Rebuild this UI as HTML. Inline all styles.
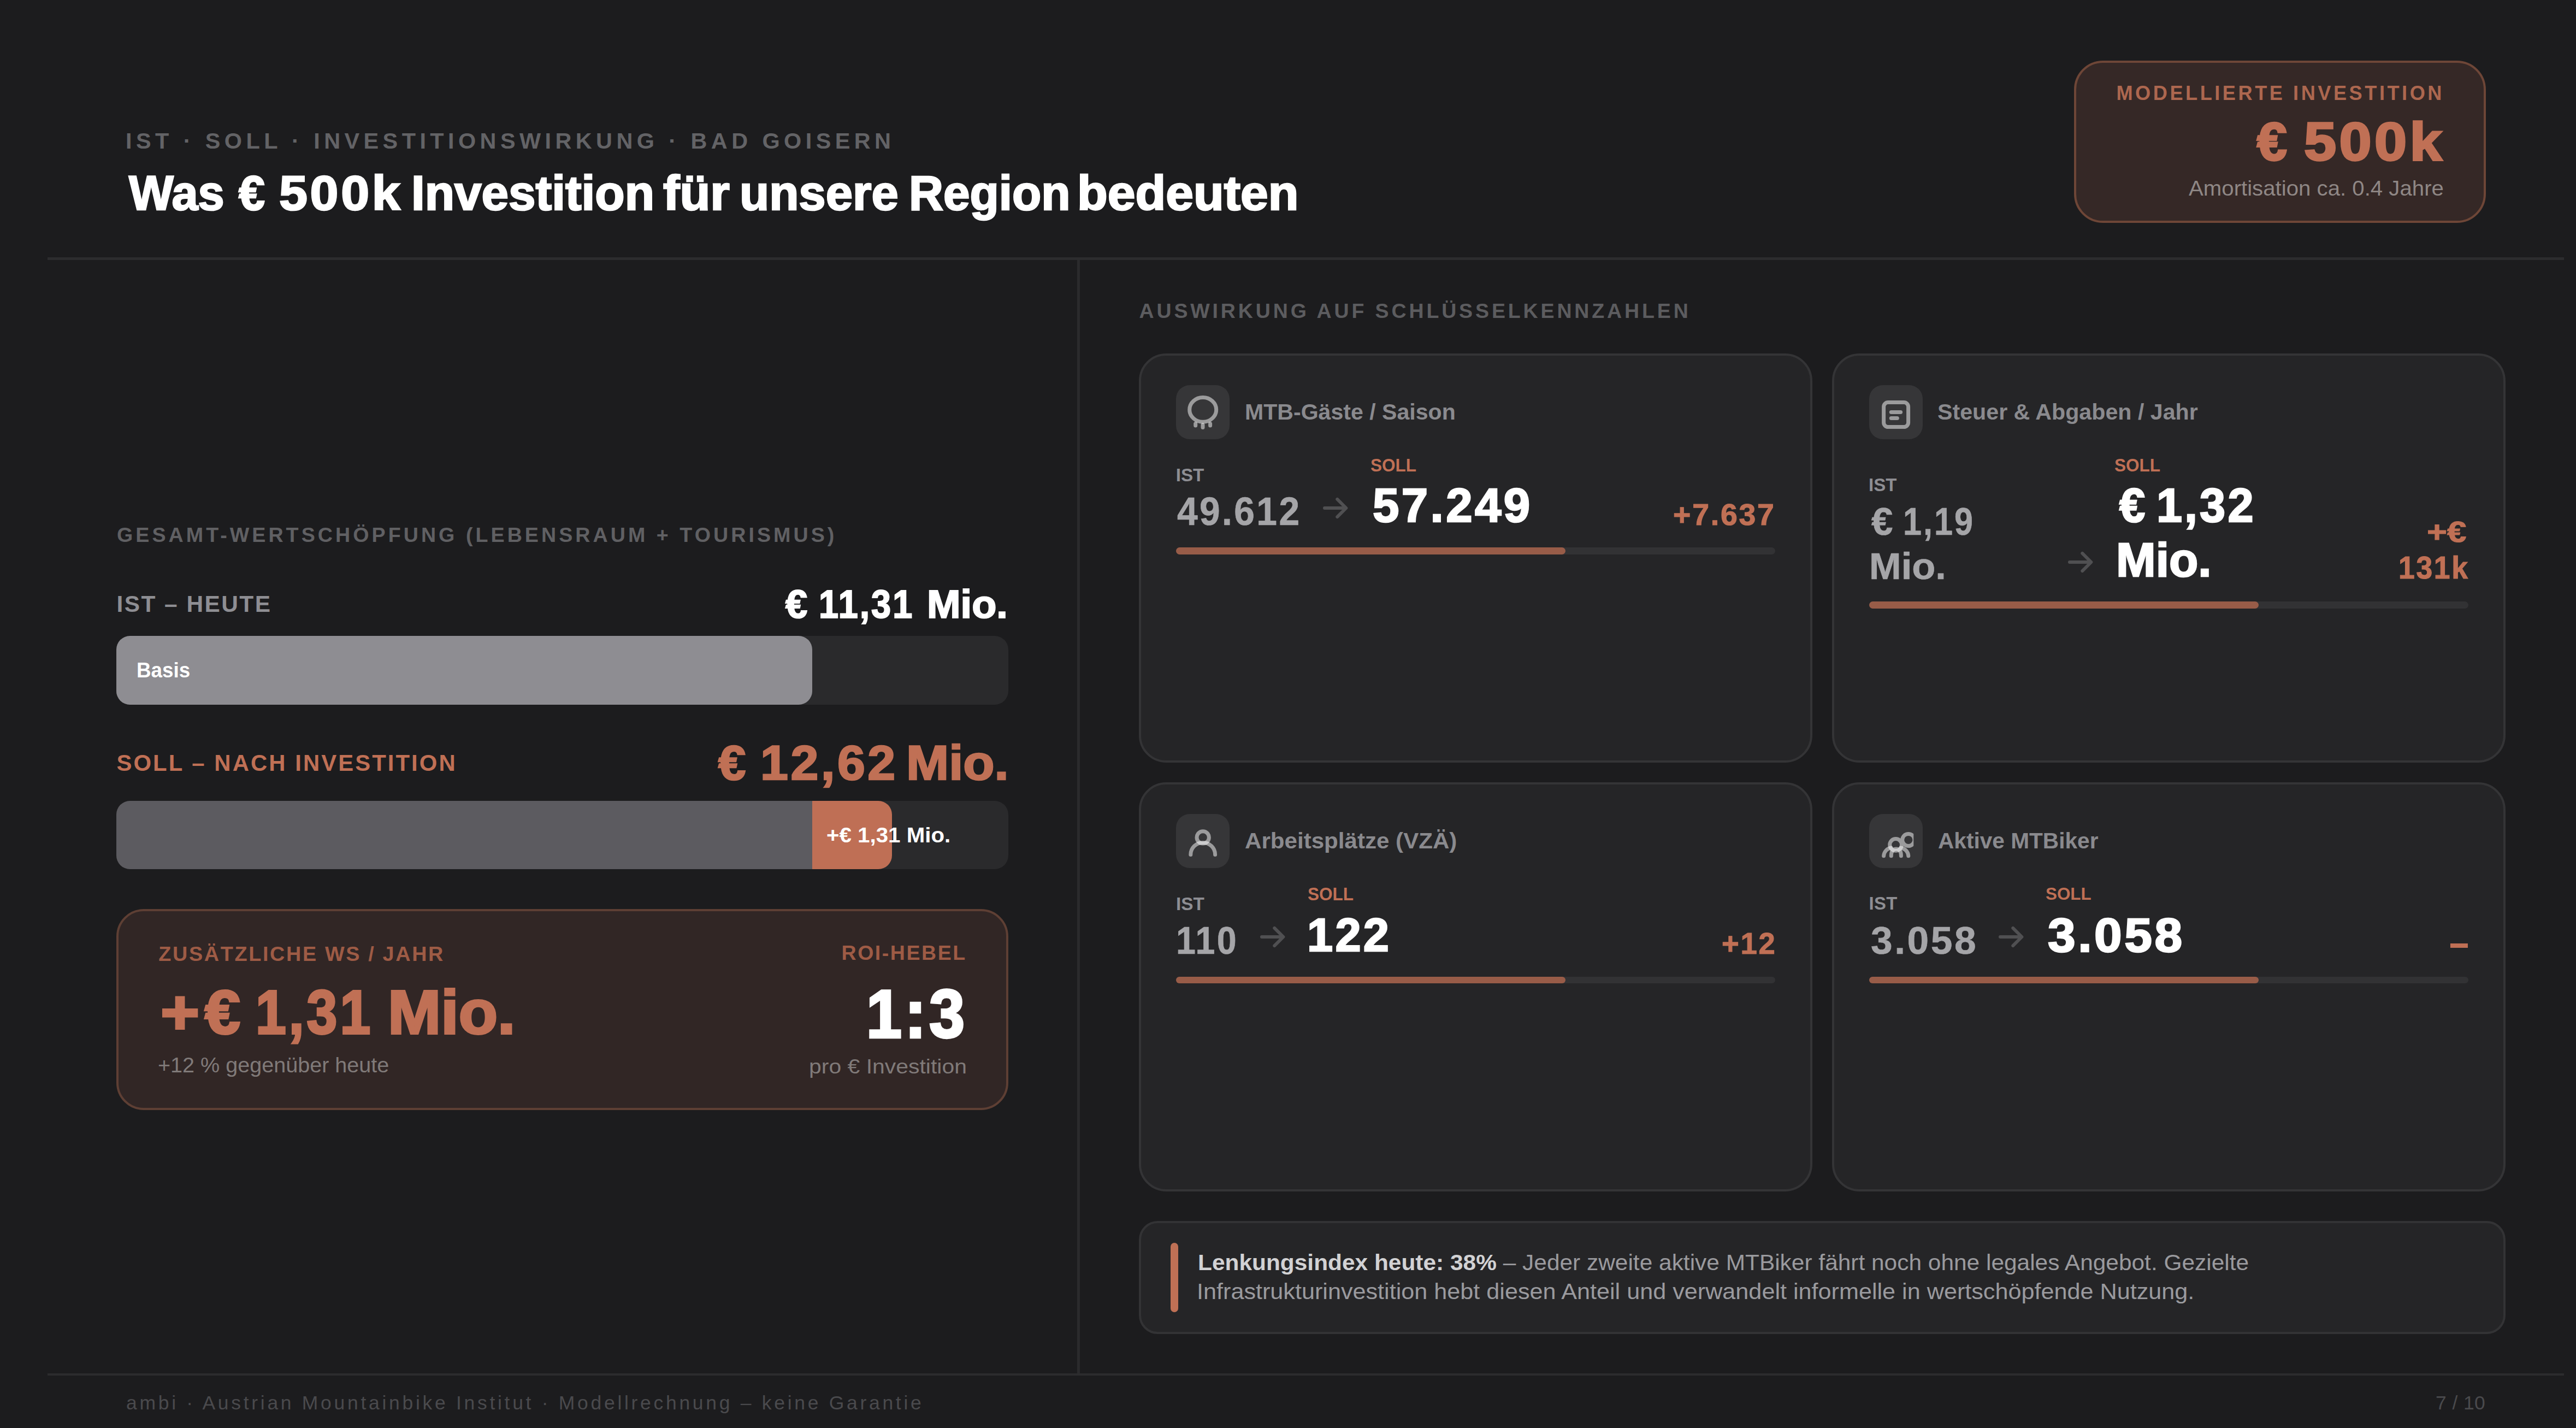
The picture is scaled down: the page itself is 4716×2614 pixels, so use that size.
<!DOCTYPE html>
<html lang="de"><head><meta charset="utf-8"><title>Investitionswirkung</title>
<style>
html,body{margin:0;padding:0;background:#1c1c1e;}
body{width:4716px;height:2614px;position:relative;overflow:hidden;font-family:"Liberation Sans", Arial, sans-serif;}
.t{position:absolute;white-space:nowrap;}
.t b{font-weight:700;color:#d2d2d4;}
.b{position:absolute;display:block;}
</style></head><body>
<div class="b" style="left:87.00px;top:471.00px;width:4607.00px;height:4.70px;background:#2c2c2e;border-radius:0;"></div>
<div class="b" style="left:1972.10px;top:475.50px;width:4.90px;height:2038.50px;background:#2a2a2c;border-radius:0;"></div>
<div class="b" style="left:87.00px;top:2514.00px;width:4607.00px;height:4.20px;background:#2c2c2e;border-radius:0;"></div>
<div class="b" style="left:3797.20px;top:111.00px;width:754.00px;height:297.00px;background:#352826;border-radius:53px;border:4.9px solid #6e4637;box-sizing:border-box;"></div>
<div class="b" style="left:213.00px;top:1164.00px;width:1633.00px;height:125.50px;background:#2a2a2c;border-radius:25px;"></div>
<div class="b" style="left:213.00px;top:1164.00px;width:1273.50px;height:125.50px;background:#8e8d92;border-radius:25px;"></div>
<div class="b" style="left:213.00px;top:1465.50px;width:1633.00px;height:125.30px;background:#2a2a2c;border-radius:25px;"></div>
<div class="b" style="left:1486.50px;top:1465.50px;width:146.50px;height:125.30px;background:#bf6f55;border-radius:0 25px 25px 0;"></div>
<div class="b" style="left:213.00px;top:1465.50px;width:1273.50px;height:125.30px;background:#5c5b60;border-radius:25px 0 0 25px;"></div>
<div class="b" style="left:213.00px;top:1663.60px;width:1633.10px;height:368.50px;background:#312625;border-radius:50px;border:4.9px solid #5e3f34;box-sizing:border-box;"></div>
<div class="b" style="left:2085.00px;top:646.80px;width:1233.20px;height:749.40px;background:#252527;border-radius:50px;border:4.9px solid #343436;box-sizing:border-box;"></div>
<div class="b" style="left:3353.80px;top:646.80px;width:1233.20px;height:749.40px;background:#252527;border-radius:50px;border:4.9px solid #343436;box-sizing:border-box;"></div>
<div class="b" style="left:2085.00px;top:1431.70px;width:1233.20px;height:749.50px;background:#252527;border-radius:50px;border:4.9px solid #343436;box-sizing:border-box;"></div>
<div class="b" style="left:3353.80px;top:1431.70px;width:1233.20px;height:749.50px;background:#252527;border-radius:50px;border:4.9px solid #343436;box-sizing:border-box;"></div>
<div class="b" style="left:2152.80px;top:704.90px;width:98.50px;height:98.80px;background:#363638;border-radius:25px;"></div>
<div class="b" style="left:3421.80px;top:704.90px;width:98.50px;height:98.80px;background:#363638;border-radius:25px;"></div>
<div class="b" style="left:2152.80px;top:1489.90px;width:98.50px;height:98.80px;background:#363638;border-radius:25px;"></div>
<div class="b" style="left:3421.80px;top:1489.90px;width:98.50px;height:98.80px;background:#363638;border-radius:25px;"></div>
<svg class="b" style="left:2152.80px;top:704.90px" width="98.5" height="98.8" viewBox="0 0 98.5 98.8"><ellipse cx="49.2" cy="44.9" rx="24.5" ry="22.4" stroke="#fff" stroke-opacity="0.5" fill="none" stroke-width="7" stroke-linecap="round"/><line x1="35.7" y1="70.5" x2="35.7" y2="74" stroke="#fff" stroke-opacity="0.5" fill="none" stroke-width="7" stroke-linecap="round"/><line x1="49" y1="72.6" x2="49" y2="77.6" stroke="#fff" stroke-opacity="0.5" fill="none" stroke-width="7" stroke-linecap="round"/><line x1="62.6" y1="70.5" x2="62.6" y2="74" stroke="#fff" stroke-opacity="0.5" fill="none" stroke-width="7" stroke-linecap="round"/></svg>
<svg class="b" style="left:3421.80px;top:704.90px" width="98.5" height="98.8" viewBox="0 0 98.5 98.8"><rect x="26.6" y="31.6" width="45" height="45" rx="8" stroke="#fff" stroke-opacity="0.5" fill="none" stroke-width="7" stroke-linecap="round"/><line x1="40.3" y1="49.4" x2="57.6" y2="49.4" stroke="#fff" stroke-opacity="0.5" fill="none" stroke-width="7" stroke-linecap="round"/><line x1="40.3" y1="60.6" x2="51.3" y2="60.6" stroke="#fff" stroke-opacity="0.5" fill="none" stroke-width="7" stroke-linecap="round"/></svg>
<svg class="b" style="left:2152.80px;top:1489.90px" width="98.5" height="98.8" viewBox="0 0 98.5 98.8"><circle cx="49.2" cy="42.9" r="11.2" stroke="#fff" stroke-opacity="0.5" fill="none" stroke-width="7" stroke-linecap="round"/><path d="M26.8 74.4 A22.4 22 0 0 1 71.6 74.4" stroke="#fff" stroke-opacity="0.5" fill="none" stroke-width="7" stroke-linecap="round"/></svg>
<svg class="b" style="left:3421.80px;top:1489.90px" width="98.5" height="98.8" viewBox="0 0 98.5 98.8"><defs><clipPath id="gc"><rect x="0" y="0" width="81.3" height="98"/></clipPath></defs><path clip-path="url(#gc)" d="M82.9 47.5 A11.1 11.1 0 1 0 60.7 47.5 A11.1 11.1 0 1 0 82.9 47.5 Z M59.5 56.4 A10.9 10.9 0 1 0 37.7 56.4 A10.9 10.9 0 1 0 59.5 56.4 Z" stroke="#fff" stroke-opacity="0.5" fill="none" stroke-width="7" stroke-linecap="round"/><path d="M26.6 76.7 A15.9 15.9 0 0 1 40 62 M71.8 76.7 A15.9 15.9 0 0 0 58 62 M40.3 76.7 Q40.3 64 49.5 64 Q58.4 64 58.4 76.7" stroke="#fff" stroke-opacity="0.5" fill="none" stroke-width="7" stroke-linecap="round"/></svg>
<svg class="b" style="left:2421.55px;top:908.00px" width="50.00" height="44.00" viewBox="0 0 50.00 44.00"><path d="M2.95 22.00 H42.00 M26.25 5.90 L42.40 22.00 L26.25 38.10" stroke="#505052" stroke-width="5.90" fill="none" stroke-linecap="round" stroke-linejoin="round"/></svg>
<svg class="b" style="left:3785.50px;top:1007.00px" width="50.00" height="44.00" viewBox="0 0 50.00 44.00"><path d="M2.95 22.00 H42.00 M26.25 5.90 L42.40 22.00 L26.25 38.10" stroke="#505052" stroke-width="5.90" fill="none" stroke-linecap="round" stroke-linejoin="round"/></svg>
<svg class="b" style="left:2306.60px;top:1693.20px" width="50.00" height="44.00" viewBox="0 0 50.00 44.00"><path d="M2.95 22.00 H42.00 M26.25 5.90 L42.40 22.00 L26.25 38.10" stroke="#505052" stroke-width="5.90" fill="none" stroke-linecap="round" stroke-linejoin="round"/></svg>
<svg class="b" style="left:3658.80px;top:1693.30px" width="50.00" height="44.00" viewBox="0 0 50.00 44.00"><path d="M2.95 22.00 H42.00 M26.25 5.90 L42.40 22.00 L26.25 38.10" stroke="#505052" stroke-width="5.90" fill="none" stroke-linecap="round" stroke-linejoin="round"/></svg>
<div class="b" style="left:2153.00px;top:1002.20px;width:1097.00px;height:12.60px;background:#323234;border-radius:7px;"></div>
<div class="b" style="left:2153.00px;top:1002.20px;width:713.00px;height:12.60px;background:#985c48;border-radius:7px;"></div>
<div class="b" style="left:3422.00px;top:1101.00px;width:1097.00px;height:12.80px;background:#323234;border-radius:7px;"></div>
<div class="b" style="left:3422.00px;top:1101.00px;width:713.00px;height:12.80px;background:#985c48;border-radius:7px;"></div>
<div class="b" style="left:2153.00px;top:1787.50px;width:1097.00px;height:12.80px;background:#323234;border-radius:7px;"></div>
<div class="b" style="left:2153.00px;top:1787.50px;width:713.00px;height:12.80px;background:#985c48;border-radius:7px;"></div>
<div class="b" style="left:3422.00px;top:1787.50px;width:1097.00px;height:12.80px;background:#323234;border-radius:7px;"></div>
<div class="b" style="left:3422.00px;top:1787.50px;width:713.00px;height:12.80px;background:#985c48;border-radius:7px;"></div>
<div class="b" style="left:2085.10px;top:2235.00px;width:2501.90px;height:206.80px;background:#252527;border-radius:34.4px;border:4.9px solid #333335;box-sizing:border-box;"></div>
<div class="b" style="left:2143.40px;top:2275.10px;width:13.70px;height:126.70px;background:#bf7055;border-radius:7px;"></div>
<div id="hdr" class="t" style="left:230.00px;top:237.43px;font-size:41.43px;line-height:41.43px;font-weight:700;color:#636366;letter-spacing:7.422px;">IST · SOLL · INVESTITIONSWIRKUNG · BAD GOISERN</div>
<div id="title_0" class="t" style="left:236.20px;top:308.69px;font-size:89.14px;line-height:89.14px;font-weight:700;color:#ffffff;letter-spacing:0.000px;transform:scaleX(0.9707);transform-origin:0 0;-webkit-text-stroke:2.67px #ffffff;">Was</div>
<div id="title_1" class="t" style="left:436.60px;top:308.69px;font-size:89.14px;line-height:89.14px;font-weight:700;color:#ffffff;letter-spacing:0.000px;transform:scaleX(0.9657);transform-origin:0 0;-webkit-text-stroke:2.67px #ffffff;">€</div>
<div id="title_2" class="t" style="left:511.00px;top:308.69px;font-size:89.14px;line-height:89.14px;font-weight:700;color:#ffffff;letter-spacing:4.457px;transform:scaleX(1.0477);transform-origin:0 0;-webkit-text-stroke:2.67px #ffffff;">500k</div>
<div id="title_3" class="t" style="left:752.80px;top:308.69px;font-size:89.14px;line-height:89.14px;font-weight:700;color:#ffffff;letter-spacing:0.000px;transform:scaleX(0.9987);transform-origin:0 0;-webkit-text-stroke:2.67px #ffffff;">Investition</div>
<div id="title_4" class="t" style="left:1214.00px;top:308.69px;font-size:89.14px;line-height:89.14px;font-weight:700;color:#ffffff;letter-spacing:0.000px;transform:scaleX(1.0261);transform-origin:0 0;-webkit-text-stroke:2.67px #ffffff;">für</div>
<div id="title_5" class="t" style="left:1353.50px;top:308.69px;font-size:89.14px;line-height:89.14px;font-weight:700;color:#ffffff;letter-spacing:0.000px;transform:scaleX(0.9953);transform-origin:0 0;-webkit-text-stroke:2.67px #ffffff;">unsere</div>
<div id="title_6" class="t" style="left:1663.60px;top:308.69px;font-size:89.14px;line-height:89.14px;font-weight:700;color:#ffffff;letter-spacing:0.000px;transform:scaleX(0.9783);transform-origin:0 0;-webkit-text-stroke:2.67px #ffffff;">Region</div>
<div id="title_7" class="t" style="left:1971.80px;top:308.69px;font-size:89.14px;line-height:89.14px;font-weight:700;color:#ffffff;letter-spacing:0.000px;transform:scaleX(1.0236);transform-origin:0 0;-webkit-text-stroke:2.67px #ffffff;">bedeuten</div>
<div id="mi_lab" class="t" style="left:3874.40px;top:152.86px;font-size:36.19px;line-height:36.19px;font-weight:700;color:#ad674f;letter-spacing:4.532px;">MODELLIERTE INVESTITION</div>
<div id="mi_val_0" class="t" style="left:4132.00px;top:210.99px;font-size:97.79px;line-height:97.79px;font-weight:700;color:#c07055;letter-spacing:0.000px;transform:scaleX(1.0073);transform-origin:0 0;-webkit-text-stroke:3.42px #c07055;">€</div>
<div id="mi_val_1" class="t" style="left:4218.40px;top:210.99px;font-size:97.79px;line-height:97.79px;font-weight:700;color:#c07055;letter-spacing:4.889px;transform:scaleX(1.0880);transform-origin:0 0;-webkit-text-stroke:3.42px #c07055;">500k</div>
<div id="mi_sub" class="t" style="left:4007.00px;top:325.86px;font-size:38.66px;line-height:38.66px;font-weight:400;color:#8f8785;letter-spacing:0.000px;transform:scaleX(1.0397);transform-origin:0 0;">Amortisation ca. 0.4 Jahre</div>
<div id="gesamt" class="t" style="left:214.00px;top:961.13px;font-size:37.65px;line-height:37.65px;font-weight:700;color:#606063;letter-spacing:5.032px;">GESAMT-WERTSCHÖPFUNG (LEBENSRAUM + TOURISMUS)</div>
<div id="ist_h" class="t" style="left:213.50px;top:1085.26px;font-size:42.44px;line-height:42.44px;font-weight:700;color:#8e8e93;letter-spacing:2.450px;">IST – HEUTE</div>
<div id="ist_v_0" class="t" style="left:1437.60px;top:1071.03px;font-size:71.45px;line-height:71.45px;font-weight:700;color:#ffffff;letter-spacing:0.000px;transform:scaleX(1.0101);transform-origin:0 0;-webkit-text-stroke:2.14px #ffffff;">€</div>
<div id="ist_v_1" class="t" style="left:1499.40px;top:1071.03px;font-size:71.45px;line-height:71.45px;font-weight:700;color:#ffffff;letter-spacing:3.572px;transform:scaleX(0.9059);transform-origin:0 0;-webkit-text-stroke:2.14px #ffffff;">11,31</div>
<div id="ist_v_2" class="t" style="left:1697.00px;top:1071.03px;font-size:71.45px;line-height:71.45px;font-weight:700;color:#ffffff;letter-spacing:0.000px;transform:scaleX(1.0354);transform-origin:0 0;-webkit-text-stroke:2.14px #ffffff;">Mio.</div>
<div id="basis" class="t" style="left:249.80px;top:1207.86px;font-size:38.66px;line-height:38.66px;font-weight:700;color:#ffffff;letter-spacing:0.000px;transform:scaleX(0.9522);transform-origin:0 0;">Basis</div>
<div id="soll_h" class="t" style="left:213.50px;top:1375.76px;font-size:41.86px;line-height:41.86px;font-weight:700;color:#c07055;letter-spacing:3.064px;">SOLL – NACH INVESTITION</div>
<div id="soll_v_0" class="t" style="left:1315.40px;top:1352.97px;font-size:88.58px;line-height:88.58px;font-weight:700;color:#c07055;letter-spacing:0.000px;transform:scaleX(1.0204);transform-origin:0 0;-webkit-text-stroke:2.66px #c07055;">€</div>
<div id="soll_v_1" class="t" style="left:1392.10px;top:1352.97px;font-size:88.58px;line-height:88.58px;font-weight:700;color:#c07055;letter-spacing:4.429px;transform:scaleX(1.0327);transform-origin:0 0;-webkit-text-stroke:2.66px #c07055;">12,62</div>
<div id="soll_v_2" class="t" style="left:1658.50px;top:1352.97px;font-size:88.58px;line-height:88.58px;font-weight:700;color:#c07055;letter-spacing:0.000px;transform:scaleX(1.0592);transform-origin:0 0;-webkit-text-stroke:2.66px #c07055;">Mio.</div>
<div id="bar2l" class="t" style="left:1512.60px;top:1509.96px;font-size:38.08px;line-height:38.08px;font-weight:700;color:#ffffff;letter-spacing:0.000px;transform:scaleX(1.0579);transform-origin:0 0;">+€ 1,31 Mio.</div>
<div id="zus" class="t" style="left:290.30px;top:1728.30px;font-size:37.79px;line-height:37.79px;font-weight:700;color:#9e5b45;letter-spacing:2.650px;">ZUSÄTZLICHE WS / JAHR</div>
<div id="zus_v_0" class="t" style="left:293.60px;top:1796.31px;font-size:113.97px;line-height:113.97px;font-weight:700;color:#c07055;letter-spacing:0.000px;transform:scaleX(1.0680);transform-origin:0 0;-webkit-text-stroke:3.99px #c07055;">+</div>
<div id="zus_v_1" class="t" style="left:375.10px;top:1796.31px;font-size:113.97px;line-height:113.97px;font-weight:700;color:#c07055;letter-spacing:0.000px;transform:scaleX(1.0214);transform-origin:0 0;-webkit-text-stroke:3.99px #c07055;">€</div>
<div id="zus_v_2" class="t" style="left:467.80px;top:1796.31px;font-size:113.97px;line-height:113.97px;font-weight:700;color:#c07055;letter-spacing:5.699px;transform:scaleX(0.8795);transform-origin:0 0;-webkit-text-stroke:3.99px #c07055;">1,31</div>
<div id="zus_v_3" class="t" style="left:710.40px;top:1796.31px;font-size:113.97px;line-height:113.97px;font-weight:700;color:#c07055;letter-spacing:0.000px;transform:scaleX(1.0249);transform-origin:0 0;-webkit-text-stroke:3.99px #c07055;">Mio.</div>
<div id="zus_s" class="t" style="left:289.10px;top:1930.96px;font-size:38.08px;line-height:38.08px;font-weight:400;color:#807a79;letter-spacing:0.000px;transform:scaleX(1.0386);transform-origin:0 0;">+12 % gegenüber heute</div>
<div id="roi" class="t" style="left:1540.50px;top:1726.45px;font-size:37.50px;line-height:37.50px;font-weight:700;color:#9e5b45;letter-spacing:2.550px;">ROI-HEBEL</div>
<div id="roi_v" class="t" style="left:1586.00px;top:1795.48px;font-size:123.38px;line-height:123.38px;font-weight:700;color:#ffffff;letter-spacing:6.169px;transform:scaleX(0.9440);transform-origin:0 0;-webkit-text-stroke:4.32px #ffffff;">1:3</div>
<div id="roi_s" class="t" style="left:1481.00px;top:1933.62px;font-size:37.06px;line-height:37.06px;font-weight:400;color:#807a79;letter-spacing:0.000px;transform:scaleX(1.1048);transform-origin:0 0;">pro € Investition</div>
<div id="ausw" class="t" style="left:2085.50px;top:551.45px;font-size:37.50px;line-height:37.50px;font-weight:700;color:#5c5c5f;letter-spacing:4.873px;">AUSWIRKUNG AUF SCHLÜSSELKENNZAHLEN</div>
<div id="c1_t" class="t" style="left:2278.50px;top:733.74px;font-size:40.70px;line-height:40.70px;font-weight:700;color:#8a8a8e;letter-spacing:0.000px;transform:scaleX(1.0096);transform-origin:0 0;">MTB-Gäste / Saison</div>
<div id="c1_ist" class="t" style="left:2152.80px;top:852.52px;font-size:33.29px;line-height:33.29px;font-weight:700;color:#8e8e93;letter-spacing:-0.100px;">IST</div>
<div id="c1_iv" class="t" style="left:2155.40px;top:900.87px;font-size:71.78px;line-height:71.78px;font-weight:700;color:#a5a5a8;letter-spacing:3.589px;transform:scaleX(0.9437);transform-origin:0 0;-webkit-text-stroke:0.72px #a5a5a8;">49.612</div>
<div id="c1_soll" class="t" style="left:2508.80px;top:834.54px;font-size:33.14px;line-height:33.14px;font-weight:700;color:#c07055;letter-spacing:0.000px;transform:scaleX(0.9516);transform-origin:0 0;">SOLL</div>
<div id="c1_sv" class="t" style="left:2513.00px;top:882.39px;font-size:87.75px;line-height:87.75px;font-weight:700;color:#ffffff;letter-spacing:4.387px;transform:scaleX(0.9925);transform-origin:0 0;-webkit-text-stroke:2.63px #ffffff;">57.249</div>
<div id="c1_d" class="t" style="left:3063.40px;top:914.53px;font-size:54.94px;line-height:54.94px;font-weight:700;color:#c07055;letter-spacing:2.747px;transform:scaleX(1.0088);transform-origin:0 0;-webkit-text-stroke:1.10px #c07055;">+7.637</div>
<div id="c2_t" class="t" style="left:3547.00px;top:733.74px;font-size:40.70px;line-height:40.70px;font-weight:700;color:#8a8a8e;letter-spacing:0.000px;transform:scaleX(1.0122);transform-origin:0 0;">Steuer &amp; Abgaben / Jahr</div>
<div id="c2_ist" class="t" style="left:3421.40px;top:870.64px;font-size:33.14px;line-height:33.14px;font-weight:700;color:#8e8e93;letter-spacing:0.000px;transform:scaleX(0.9969);transform-origin:0 0;">IST</div>
<div id="c2_iv1_0" class="t" style="left:3425.60px;top:919.81px;font-size:70.20px;line-height:70.20px;font-weight:700;color:#a5a5a8;letter-spacing:0.000px;transform:scaleX(1.0109);transform-origin:0 0;-webkit-text-stroke:0.70px #a5a5a8;">€</div>
<div id="c2_iv1_1" class="t" style="left:3483.90px;top:919.81px;font-size:70.20px;line-height:70.20px;font-weight:700;color:#a5a5a8;letter-spacing:3.510px;transform:scaleX(0.8700);transform-origin:0 0;-webkit-text-stroke:0.70px #a5a5a8;">1,19</div>
<div id="c2_iv2" class="t" style="left:3421.60px;top:1001.59px;font-size:69.06px;line-height:69.06px;font-weight:700;color:#a5a5a8;letter-spacing:0.000px;transform:scaleX(1.0200);transform-origin:0 0;-webkit-text-stroke:0.69px #a5a5a8;">Mio.</div>
<div id="c2_soll" class="t" style="left:3871.40px;top:834.54px;font-size:33.14px;line-height:33.14px;font-weight:700;color:#c07055;letter-spacing:0.000px;transform:scaleX(0.9522);transform-origin:0 0;">SOLL</div>
<div id="c2_sv1_0" class="t" style="left:3880.10px;top:882.47px;font-size:86.49px;line-height:86.49px;font-weight:700;color:#ffffff;letter-spacing:0.000px;transform:scaleX(0.9804);transform-origin:0 0;-webkit-text-stroke:2.59px #ffffff;">€</div>
<div id="c2_sv1_1" class="t" style="left:3947.70px;top:882.47px;font-size:86.49px;line-height:86.49px;font-weight:700;color:#ffffff;letter-spacing:4.325px;transform:scaleX(0.9788);transform-origin:0 0;-webkit-text-stroke:2.59px #ffffff;">1,32</div>
<div id="c2_sv2" class="t" style="left:3873.60px;top:982.09px;font-size:86.35px;line-height:86.35px;font-weight:700;color:#ffffff;letter-spacing:0.000px;transform:scaleX(1.0109);transform-origin:0 0;-webkit-text-stroke:2.59px #ffffff;">Mio.</div>
<div id="c2_d1" class="t" style="left:4443.20px;top:946.64px;font-size:53.53px;line-height:53.53px;font-weight:700;color:#c07055;letter-spacing:0.000px;transform:scaleX(1.1863);transform-origin:0 0;-webkit-text-stroke:1.07px #c07055;">+€</div>
<div id="c2_d2" class="t" style="left:4391.20px;top:1011.41px;font-size:57.77px;line-height:57.77px;font-weight:700;color:#c07055;letter-spacing:2.888px;transform:scaleX(0.9248);transform-origin:0 0;-webkit-text-stroke:1.16px #c07055;">131k</div>
<div id="c3_t" class="t" style="left:2278.60px;top:1518.74px;font-size:40.70px;line-height:40.70px;font-weight:700;color:#8a8a8e;letter-spacing:0.000px;transform:scaleX(1.0349);transform-origin:0 0;">Arbeitsplätze (VZÄ)</div>
<div id="c3_ist" class="t" style="left:2152.80px;top:1637.59px;font-size:33.43px;line-height:33.43px;font-weight:700;color:#8e8e93;letter-spacing:0.000px;transform:scaleX(0.9969);transform-origin:0 0;">IST</div>
<div id="c3_iv" class="t" style="left:2153.00px;top:1687.82px;font-size:69.49px;line-height:69.49px;font-weight:700;color:#a5a5a8;letter-spacing:3.474px;transform:scaleX(0.9294);transform-origin:0 0;-webkit-text-stroke:0.69px #a5a5a8;">110</div>
<div id="c3_soll" class="t" style="left:2394.00px;top:1619.74px;font-size:33.14px;line-height:33.14px;font-weight:700;color:#c07055;letter-spacing:0.000px;transform:scaleX(0.9522);transform-origin:0 0;">SOLL</div>
<div id="c3_sv" class="t" style="left:2393.10px;top:1668.59px;font-size:85.66px;line-height:85.66px;font-weight:700;color:#ffffff;letter-spacing:4.283px;transform:scaleX(0.9898);transform-origin:0 0;-webkit-text-stroke:2.57px #ffffff;">122</div>
<div id="c3_d" class="t" style="left:3151.50px;top:1699.73px;font-size:54.94px;line-height:54.94px;font-weight:700;color:#c07055;letter-spacing:2.747px;transform:scaleX(0.9900);transform-origin:0 0;-webkit-text-stroke:1.10px #c07055;">+12</div>
<div id="c4_t" class="t" style="left:3548.00px;top:1518.74px;font-size:40.70px;line-height:40.70px;font-weight:700;color:#8a8a8e;letter-spacing:0.000px;transform:scaleX(0.9983);transform-origin:0 0;">Aktive MTBiker</div>
<div id="c4_ist" class="t" style="left:3421.40px;top:1638.09px;font-size:32.85px;line-height:32.85px;font-weight:700;color:#8e8e93;letter-spacing:0.400px;">IST</div>
<div id="c4_iv" class="t" style="left:3424.50px;top:1687.82px;font-size:69.49px;line-height:69.49px;font-weight:700;color:#a5a5a8;letter-spacing:3.474px;transform:scaleX(1.0251);transform-origin:0 0;-webkit-text-stroke:0.69px #a5a5a8;">3.058</div>
<div id="c4_soll" class="t" style="left:3745.10px;top:1620.75px;font-size:31.83px;line-height:31.83px;font-weight:700;color:#c07055;letter-spacing:0.000px;transform:scaleX(0.9859);transform-origin:0 0;">SOLL</div>
<div id="c4_sv" class="t" style="left:3748.50px;top:1668.59px;font-size:86.35px;line-height:86.35px;font-weight:700;color:#ffffff;letter-spacing:4.318px;transform:scaleX(1.0545);transform-origin:0 0;-webkit-text-stroke:2.59px #ffffff;">3.058</div>
<div id="c4_d" class="t" style="left:4485.00px;top:1695.75px;font-size:61.00px;line-height:61.00px;font-weight:700;color:#c07055;letter-spacing:0.000px;-webkit-text-stroke:1.80px #c07055;">–</div>
<div id="n1" class="t" style="left:2193.00px;top:2290.76px;font-size:40.55px;line-height:40.55px;font-weight:400;color:#9a9a9e;letter-spacing:0.000px;transform:scaleX(1.0463);transform-origin:0 0;"><b>Lenkungsindex heute: 38%</b> – Jeder zweite aktive MTBiker fährt noch ohne legales Angebot. Gezielte</div>
<div id="n2" class="t" style="left:2191.00px;top:2345.38px;font-size:39.83px;line-height:39.83px;font-weight:400;color:#9a9a9e;letter-spacing:0.000px;transform:scaleX(1.0840);transform-origin:0 0;">Infrastrukturinvestition hebt diesen Anteil und verwandelt informelle in wertschöpfende Nutzung.</div>
<div id="foot" class="t" style="left:231.00px;top:2551.17px;font-size:35.47px;line-height:35.47px;font-weight:400;color:#4a4a4d;letter-spacing:4.714px;">ambi · Austrian Mountainbike Institut · Modellrechnung – keine Garantie</div>
<div id="pgnum" class="t" style="left:4459.00px;top:2551.37px;font-size:35.47px;line-height:35.47px;font-weight:400;color:#4a4a4d;letter-spacing:0.400px;">7 / 10</div>
<script>(function(){var s=window.innerWidth/4716;if(s>0&&Math.abs(s-1)>0.002){document.documentElement.style.zoom=s;}})();</script>
</body></html>
